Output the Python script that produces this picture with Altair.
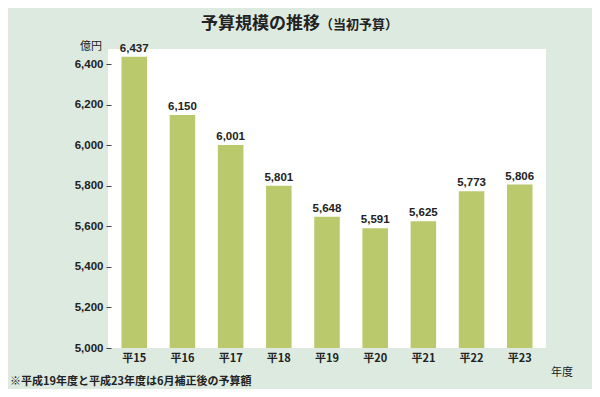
import altair as alt
import pandas as pd

years = ["平15", "平16", "平17", "平18", "平19", "平20", "平21", "平22", "平23"]
values = [6437, 6150, 6001, 5801, 5648, 5591, 5625, 5773, 5806]
y_ticks = [5000, 5200, 5400, 5600, 5800, 6000, 6200, 6400]

title_main = "予算規模の推移"
title_sub = "（当初予算）"
unit_label = "億円"
x_unit_label = "年度"
footnote = "※平成19年度と平成23年度は6月補正後の予算額"

BG = "#dceae0"
BAR = "#b9c96c"
JP = "Noto Sans CJK JP"
NUM = "Liberation Sans"

df = pd.DataFrame({"year": years, "value": values})

x_enc = alt.X(
    "year:N",
    sort=years,
    title=None,
    scale=alt.Scale(paddingInner=0.47, paddingOuter=0.28),
    axis=alt.Axis(
        labelAngle=0,
        labelFont=JP,
        labelFontSize=11,
        labelFontWeight="bold",
        labelColor="#222222",
        labelPadding=4,
        ticks=False,
        domain=False,
    ),
)
y_enc = alt.Y(
    "value:Q",
    title=None,
    scale=alt.Scale(domain=[5000, 6475], nice=False, zero=False),
    axis=alt.Axis(
        values=y_ticks,
        format=",.0f",
        labelFont=NUM,
        labelFontSize=11.5,
        labelFontWeight="bold",
        labelColor="#222222",
        labelPadding=3,
        tickSize=5,
        tickColor="#444444",
        offset=-3,
        domain=False,
        grid=False,
    ),
)

bars = alt.Chart(df).mark_bar(color=BAR, clip=True).encode(x=x_enc, y=y_enc)

labels = alt.Chart(df).mark_text(
    font=NUM, fontSize=11.5, fontWeight="bold", color="#222222",
    baseline="bottom", dy=-3,
).encode(
    x=alt.X("year:N", sort=years),
    y=alt.Y("value:Q"),
    text=alt.Text("value:Q", format=",.0f"),
)


def note(text, x, y, size, weight="normal", align="left"):
    return alt.Chart(pd.DataFrame({"t": [text]})).mark_text(
        font=JP, fontSize=size, fontWeight=weight, color="#222222",
        align=align, baseline="middle",
    ).encode(x=alt.value(x), y=alt.value(y), text="t:N")


chart = alt.layer(
    bars,
    labels,
    note(title_main, 93, -25, 17, "bold"),
    note(title_sub, 212, -24, 13, "bold"),
    note(unit_label, -6, -2, 11, "normal", "right"),
    note(x_unit_label, 443, 324, 11, "normal"),
    note(footnote, -98, 333, 11, "bold"),
).properties(
    width=438,
    height=299,
    autosize=alt.AutoSizeParams(type="none"),
    padding={"left": 100, "top": 41, "right": 46, "bottom": 41},
).configure(
    background=BG,
).configure_view(
    fill="white",
    stroke=None,
)

chart.save("out.html", embed_options={"renderer": "svg", "actions": False})
